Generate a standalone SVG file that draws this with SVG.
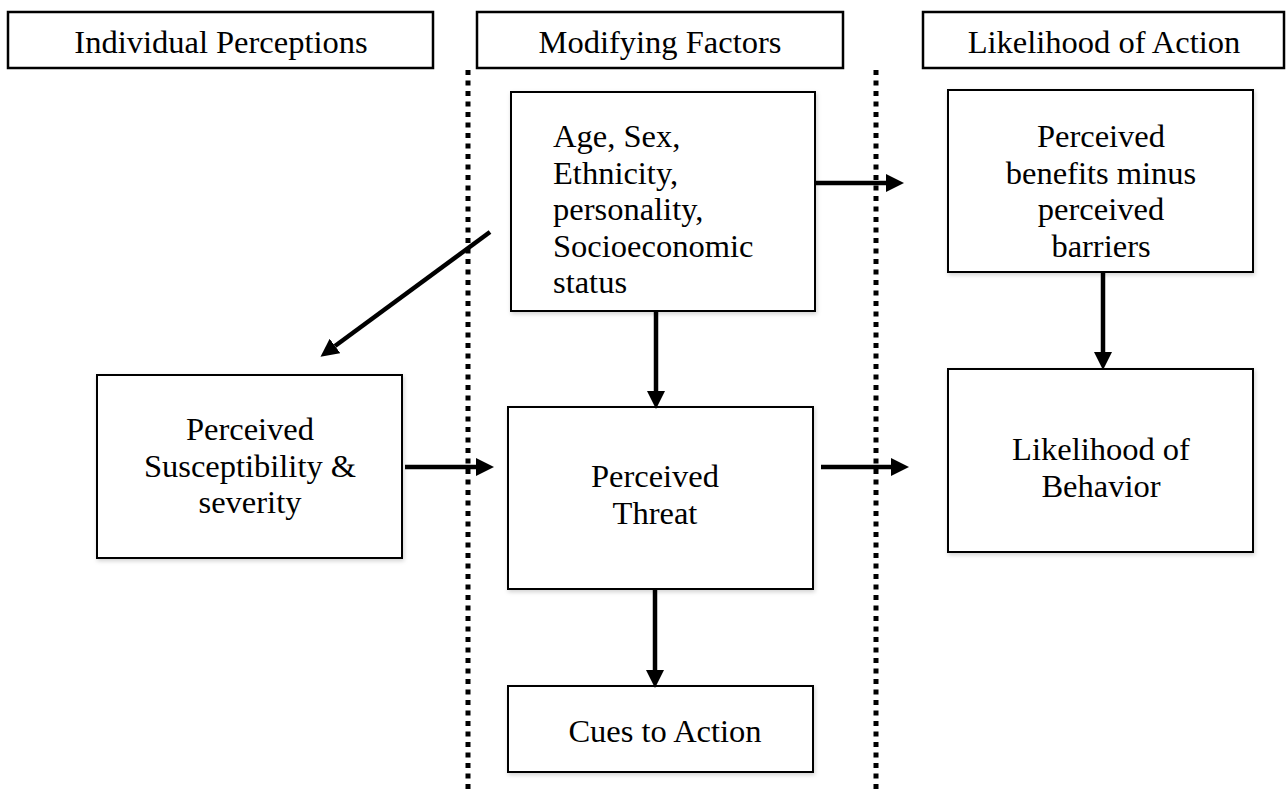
<svg xmlns="http://www.w3.org/2000/svg" width="1288" height="789" viewBox="0 0 1288 789">
  <style>
    .box { fill: #ffffff; stroke: #000000; stroke-width: 2; filter: url(#shadow); }
    .hdr { fill: #ffffff; stroke: #000000; stroke-width: 2.5; }
    .t { font-family: "Liberation Serif", "Times New Roman", serif; font-size: 32.5px; fill: #000000; }
    .c { text-anchor: middle; }
    .arrow { stroke: #000000; stroke-width: 4.5; fill: none; marker-end: url(#head); }
    .div { stroke: #000000; stroke-width: 5; stroke-dasharray: 5 5.5; fill: none; }
  </style>
  <defs>
    <filter id="shadow" x="-10%" y="-10%" width="120%" height="120%">
      <feDropShadow dx="1" dy="2" stdDeviation="2" flood-color="#000000" flood-opacity="0.18"/>
    </filter>
    <marker id="head" markerUnits="userSpaceOnUse" markerWidth="18" markerHeight="18" viewBox="0 0 16 16" refX="0" refY="8" orient="auto">
      <path d="M0,0 L16,8 L0,16 Z" fill="#000000"/>
    </marker>
  </defs>

  <g id="dividers">
    <line class="div" x1="468" y1="70" x2="468" y2="789"/>
    <line class="div" x1="876" y1="70" x2="876" y2="789"/>
  </g>

  <g id="hdr-individual">
    <rect class="hdr" x="8" y="12" width="425" height="56"/>
    <text class="t c" x="221" y="53">Individual Perceptions</text>
  </g>
  <g id="hdr-modifying">
    <rect class="hdr" x="477" y="12" width="366" height="56"/>
    <text class="t c" x="660" y="53">Modifying Factors</text>
  </g>
  <g id="hdr-likelihood">
    <rect class="hdr" x="923" y="12" width="361" height="56"/>
    <text class="t c" x="1104" y="53">Likelihood of Action</text>
  </g>

  <g id="node-demographics">
    <rect class="box" x="511" y="92" width="304" height="219"/>
    <text class="t" x="553" y="147">Age, Sex,</text>
    <text class="t" x="553" y="183.5">Ethnicity,</text>
    <text class="t" x="553" y="220">personality,</text>
    <text class="t" x="553" y="256.5">Socioeconomic</text>
    <text class="t" x="553" y="293">status</text>
  </g>

  <g id="node-benefits">
    <rect class="box" x="948" y="90" width="305" height="182"/>
    <text class="t c" x="1101" y="147">Perceived</text>
    <text class="t c" x="1101" y="183.5">benefits minus</text>
    <text class="t c" x="1101" y="220">perceived</text>
    <text class="t c" x="1101" y="256.5">barriers</text>
  </g>

  <g id="node-susceptibility">
    <rect class="box" x="97" y="375" width="305" height="183"/>
    <text class="t c" x="250" y="440">Perceived</text>
    <text class="t c" x="250" y="476.5">Susceptibility &amp;</text>
    <text class="t c" x="250" y="513">severity</text>
  </g>

  <g id="node-threat">
    <rect class="box" x="508" y="407" width="305" height="182"/>
    <text class="t c" x="655" y="487">Perceived</text>
    <text class="t c" x="655" y="523.5">Threat</text>
  </g>

  <g id="node-behavior">
    <rect class="box" x="948" y="369" width="305" height="183"/>
    <text class="t c" x="1101" y="460">Likelihood of</text>
    <text class="t c" x="1101" y="496.5">Behavior</text>
  </g>

  <g id="node-cues">
    <rect class="box" x="508" y="686" width="305" height="86"/>
    <text class="t c" x="665" y="742">Cues to Action</text>
  </g>

  <g id="connectors">
    <line class="arrow" x1="815" y1="183" x2="886" y2="183"/>
    <line class="arrow" x1="490" y1="232" x2="335" y2="346"/>
    <line class="arrow" x1="656" y1="311" x2="656" y2="391"/>
    <line class="arrow" x1="405" y1="467" x2="476" y2="467"/>
    <line class="arrow" x1="821" y1="467" x2="891" y2="467"/>
    <line class="arrow" x1="655" y1="589" x2="655" y2="670"/>
    <line class="arrow" x1="1103" y1="272" x2="1103" y2="352"/>
  </g>
</svg>
